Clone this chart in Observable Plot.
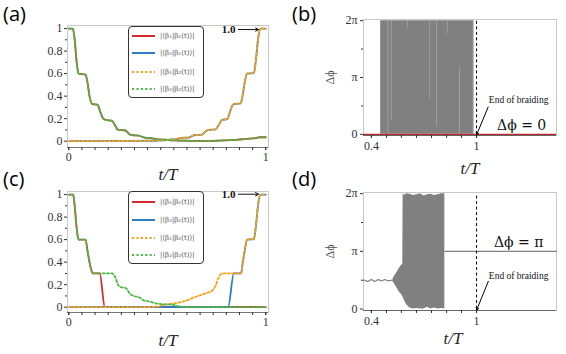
<!DOCTYPE html>
<html><head><meta charset="utf-8">
<script src="https://cdn.jsdelivr.net/npm/d3@7"></script>
<script src="https://cdn.jsdelivr.net/npm/@observablehq/plot@0.6"></script>
<style>
body{margin:0;background:#fff;}
#root{position:relative;width:566px;height:354px;overflow:hidden;background:#fff;}
.lab{position:absolute;font-family:"Open Sans";font-size:20px;line-height:20px;color:#000;}
.legend{position:absolute;border:1px solid #333;border-radius:4px;background:#fff;box-sizing:border-box;}
.row{position:absolute;left:3px;height:10px;display:flex;align-items:center;}
.row span{font-family:"DejaVu Serif";font-size:7px;color:#555;margin-left:5px;white-space:nowrap;}
</style></head><body><div id="root"></div>
<script>
// ---------- data ----------
const seriesNames = ["|⟨β₁|β₁(t)⟩|", "|⟨β₂|β₁(t)⟩|", "|⟨β₁|β₂(t)⟩|", "|⟨β₂|β₂(t)⟩|"];
const seriesColors = ["#d42a2a", "#2f7bc4", "#f7a21b", "#4db848"];
const seriesDash = [null, null, "2.2,2.2", "2.2,2.2"];

// panel (a): red/green share one curve, blue/orange share one curve
const aT1 = [0, 0.02, 0.03, 0.04, 0.05, 0.085, 0.095, 0.105, 0.12, 0.145, 0.16, 0.175, 0.186, 0.22, 0.235, 0.245, 0.255, 0.288, 0.3, 0.31, 0.32, 0.355, 0.37, 0.39, 0.42, 0.44, 0.457, 0.49, 0.52, 0.55, 0.6, 0.65, 0.7, 0.75, 0.8, 0.85, 0.9, 0.95, 0.97, 1];
const aV1 = [1, 1, 0.9, 0.7, 0.6, 0.59, 0.52, 0.4, 0.33, 0.325, 0.26, 0.2, 0.19, 0.18, 0.14, 0.11, 0.1, 0.095, 0.075, 0.06, 0.055, 0.05, 0.04, 0.03, 0.028, 0.02, 0.015, 0.013, 0.008, 0.006, 0.004, 0.002, 0.002, 0.004, 0.008, 0.012, 0.02, 0.028, 0.035, 0.035];
const aT2 = [0, 0.3, 0.45, 0.5, 0.516, 0.54, 0.56, 0.576, 0.609, 0.625, 0.643, 0.677, 0.69, 0.71, 0.745, 0.76, 0.779, 0.804, 0.815, 0.826, 0.838, 0.872, 0.882, 0.893, 0.905, 0.94, 0.95, 0.962, 0.973, 1];
const aV2 = [0, 0.002, 0.006, 0.01, 0.015, 0.017, 0.025, 0.03, 0.032, 0.045, 0.055, 0.058, 0.08, 0.1, 0.105, 0.14, 0.19, 0.195, 0.24, 0.3, 0.33, 0.335, 0.4, 0.52, 0.6, 0.605, 0.72, 0.92, 1, 1];

// panel (c)
const cT1 = [0, 0.022, 0.03, 0.04, 0.05, 0.085, 0.095, 0.11, 0.122, 0.157, 0.183, 0.3, 0.5, 0.7, 0.9, 1];
const cV1 = [1, 1, 0.9, 0.7, 0.6, 0.6, 0.5, 0.36, 0.3, 0.3, 0, 0, 0.002, 0, 0.003, 0];
const cT2 = [0, 0.3, 0.6, 0.809, 0.838, 0.875, 0.882, 0.893, 0.905, 0.94, 0.95, 0.962, 0.973, 1];
const cV2 = [0, 0.002, 0, 0, 0.3, 0.3, 0.38, 0.5, 0.6, 0.605, 0.72, 0.92, 1, 1];
const cT3 = [0, 0.3, 0.45, 0.48, 0.5, 0.54, 0.59, 0.64, 0.69, 0.73, 0.745, 0.76, 0.78, 0.875, 0.882, 0.893, 0.905, 0.94, 0.95, 0.962, 0.973, 1];
const cV3 = [0, 0, 0.005, 0.02, 0.025, 0.035, 0.055, 0.09, 0.12, 0.15, 0.19, 0.26, 0.3, 0.3, 0.38, 0.5, 0.6, 0.605, 0.72, 0.92, 1, 1];
const cT4 = [0, 0.022, 0.03, 0.04, 0.05, 0.085, 0.095, 0.11, 0.122, 0.22, 0.235, 0.25, 0.26, 0.29, 0.31, 0.33, 0.36, 0.38, 0.41, 0.44, 0.47, 0.5, 0.53, 0.56, 0.6, 0.7, 0.85, 1];
const cV4 = [1, 1, 0.9, 0.7, 0.6, 0.6, 0.5, 0.36, 0.3, 0.3, 0.27, 0.2, 0.18, 0.17, 0.12, 0.1, 0.085, 0.06, 0.05, 0.035, 0.027, 0.025, 0.02, 0.008, 0.002, 0, 0, 0];

// panel (b): phase difference (units of π)
const bBandT = [0.453, 0.985];
const bBandLo = [0, 0];
const bBandHi = [2, 2];
const bLightT = [0.495, 0.514, 0.605, 0.732, 0.772, 0.833, 0.903, 0.98];
const bLightLo = [0, 0.25, 1.85, 0.63, 0.13, 1.77, 0, 0];
const bLightHi = [2, 2, 2, 2, 2, 2, 1.18, 2];
const bZeroV = [0];

// panel (d)
const dWaveT = [0.355, 0.362, 0.381, 0.4, 0.419, 0.438, 0.457, 0.476, 0.495, 0.514, 0.524];
const dWaveV = [0.5, 0.5, 0.48, 0.51, 0.48, 0.51, 0.49, 0.51, 0.49, 0.5, 0.5];
const dBandT = [0.524, 0.535, 0.547, 0.558, 0.57, 0.579, 0.581, 0.59, 0.6, 0.62, 0.64, 0.66, 0.68, 0.7, 0.72, 0.74, 0.76, 0.78, 0.8, 0.819];
const dBandLo = [0.47, 0.42, 0.36, 0.3, 0.26, 0.22, 0.2, 0.14, 0.08, 0.02, 0, 0.01, 0, 0, 0.03, 0, 0.02, 0, 0.01, 0];
const dBandHi = [0.53, 0.58, 0.64, 0.7, 0.75, 0.78, 2, 1.97, 2, 1.99, 1.97, 1.98, 2, 1.96, 1.98, 1.99, 1.97, 1.98, 2, 2];
const dPiT = [0.819, 1.456];
const dPiV = [1, 1];

// axes / ticks
const xDomAC = [-0.0066, 1.014];
const yDomA = [-0.056, 1.027];
const yDomC = [-0.047, 1.027];
const xMajorAC = [0, 1];
const xMinorAC = [0, 0.0667, 0.1333, 0.2, 0.2667, 0.3333, 0.4, 0.4667, 0.5333, 0.6, 0.6667, 0.7333, 0.8, 0.8667, 0.9333, 1];
const yMajorAC = [0, 0.2, 0.4, 0.6, 0.8, 1];
const yMinorAC = [0.1, 0.3, 0.5, 0.7, 0.9];
const xDomBD = [0.355, 1.456];
const yDomB = [-0.02, 2.02];
const yDomD = [-0.025, 2.02];
const xMajorBD = [0.4, 1];
const xMinorBD = [0.4, 0.486, 0.571, 0.657, 0.743, 0.829, 0.914, 1];
const yMajorBD = [0, 1, 2];
const yMajorBDLabels = ["0", "π", "2π"];
const yMinorBD = [0.5, 1.5];
const braidEnd = [1];

// annotations
const annA = {t: 0.811, v: 0.991, x1: 0.861, x2: 0.963};
const annC = {t: 0.811, v: 1.003, x1: 0.861, x2: 0.963};
const annB = {endT: 1.24, endV: 0.6, phT: 1.257, phV: 0.16, ph: "Δϕ = 0", x1: 1.066, y1: 0.48, x2: 1.0, y2: -0.01};
const annD = {endT: 1.24, endV: 0.566, phT: 1.24, phV: 1.154, ph: "Δϕ = π", x1: 1.067, y1: 0.48, x2: 1.0, y2: -0.02};

// ---------- helpers ----------
const SERIF = "Liberation Serif";
const rows = (t, v) => t.map((x, i) => ({t: x, v: v[i]}));
const band = (t, lo, hi) => t.map((x, i) => ({t: x, lo: lo[i], hi: hi[i]}));
const root = document.getElementById("root");
function place(el, left, top) {
  el.style.position = "absolute"; el.style.left = left + "px"; el.style.top = top + "px";
  root.appendChild(el);
}
const baseStyle = {fontFamily: SERIF, fontSize: "12px", color: "#333", background: "transparent", overflow: "visible"};
const axisFont = {fontFamily: SERIF, fontSize: 12, label: null};

function curvePanel(series, yDom, ann, h, mt, mb, labelDy) {
  const marks = [
    Plot.frame({stroke: "#c8c8c8"}),
    Plot.ruleY([yDom[0]], {stroke: "#777"}),
    Plot.axisX({...axisFont, ticks: xMinorAC, tickSize: 3, tickFormat: () => ""}),
    Plot.axisX({...axisFont, ticks: xMajorAC, tickSize: 3, tickPadding: 2, tickFormat: d => String(d)}),
    Plot.axisY({...axisFont, ticks: yMinorAC, tickSize: 2, tickFormat: () => ""}),
    Plot.axisY({...axisFont, ticks: yMajorAC, tickSize: 3, tickPadding: 2, tickFormat: d => String(d)})
  ];
  series.forEach((s, i) => {
    marks.push(Plot.line(rows(s[0], s[1]), {x: "t", y: "v", stroke: seriesColors[i], strokeWidth: 1.8,
      curve: "monotone-x", strokeDasharray: seriesDash[i] || undefined}));
  });
  marks.push(
    Plot.text(["1.0"], {x: () => ann.t, y: () => ann.v, text: d => d, fontWeight: "bold", fontSize: 11, fontFamily: SERIF, fill: "#111"}),
    Plot.arrow([ann], {x1: "x1", x2: "x2", y1: "v", y2: "v", stroke: "#111", strokeWidth: 1, headLength: 5}),
    Plot.text(["t/T"], {frameAnchor: "bottom", lineAnchor: "middle", dy: labelDy, text: d => d, fontStyle: "italic", fontSize: 17, fontFamily: SERIF, fill: "#222"})
  );
  return Plot.plot({
    width: 283, height: h, marginLeft: 67, marginRight: 15, marginTop: mt, marginBottom: mb,
    x: {domain: xDomAC}, y: {domain: yDom}, style: baseStyle, marks
  });
}

function phasePanel(bandMarks, yDom, ann, h, mt, mb, labelDx, labelDy) {
  const marks = [
    Plot.frame({stroke: "#c8c8c8"}),
    ...bandMarks,
    Plot.ruleY([yDom[0]], {stroke: "#666"}),
    Plot.ruleX(braidEnd, {y1: 0, y2: 2, stroke: "#000", strokeWidth: 1, strokeDasharray: "3,2.5"}),
    Plot.axisX({...axisFont, ticks: xMinorBD, tickSize: 3, tickFormat: () => ""}),
    Plot.axisX({...axisFont, ticks: xMajorBD, tickSize: 3, tickPadding: 3, tickFormat: d => d === 1 ? "1" : "0.4"}),
    Plot.axisY({...axisFont, ticks: yMinorBD, tickSize: 2, tickFormat: () => ""}),
    Plot.axisY({...axisFont, ticks: yMajorBD, tickSize: 3, tickPadding: 3, tickFormat: d => yMajorBDLabels[d]}),
    Plot.text(["End of braiding"], {x: () => ann.endT, y: () => ann.endV, text: d => d, fontSize: 9.5, fontFamily: SERIF, fill: "#111"}),
    Plot.text([ann.ph], {x: () => ann.phT, y: () => ann.phV, text: d => d, fontSize: 14, fontFamily: "DejaVu Serif", fill: "#111"}),
    Plot.arrow([ann], {x1: "x1", y1: "y1", x2: "x2", y2: "y2", stroke: "#000", strokeWidth: 1, headLength: 4}),
    Plot.text(["Δϕ"], {frameAnchor: "left", textAnchor: "middle", lineAnchor: "middle", dx: -33, rotate: -90, text: d => d, fontSize: 12, fontFamily: SERIF, fill: "#555"}),
    Plot.text(["t/T"], {frameAnchor: "bottom", lineAnchor: "middle", dx: labelDx, dy: labelDy, text: d => d, fontStyle: "italic", fontSize: 17, fontFamily: SERIF, fill: "#222"})
  ];
  return Plot.plot({
    width: 283, height: h, marginLeft: 80, marginRight: 10, marginTop: mt, marginBottom: mb,
    x: {domain: xDomBD}, y: {domain: yDom}, style: baseStyle, marks
  });
}

function legend(left, top, h, rowCenters) {
  const box = document.createElement("div");
  box.className = "legend";
  box.style.width = "76px"; box.style.height = h + "px";
  seriesNames.forEach((name, i) => {
    const r = document.createElement("div");
    r.className = "row";
    r.style.top = (rowCenters[i] - 5) + "px";
    const dash = seriesDash[i] ? `stroke-dasharray="${seriesDash[i]}"` : "";
    r.innerHTML = `<svg width="23" height="4"><line x1="0" x2="23" y1="2" y2="2" stroke="${seriesColors[i]}" stroke-width="2" ${dash}/></svg><span>${name}</span>`;
    box.appendChild(r);
  });
  place(box, left, top);
}

function label(txt, left, top) {
  const d = document.createElement("div");
  d.className = "lab"; d.textContent = txt;
  place(d, left, top);
}

// ---------- build ----------
const pa = curvePanel([[aT1, aV1], [aT2, aV2], [aT2, aV2], [aT1, aV1]], yDomA, annA, 190, 25, 43, 27);
place(pa, 0, 0);
const pc = curvePanel([[cT1, cV1], [cT2, cV2], [cT3, cV3], [cT4, cV4]], yDomC, annC, 177, 14, 42, 28);
place(pc, 0, 177);

const pb = phasePanel([
  Plot.areaY(band(bBandT, bBandLo, bBandHi), {x: "t", y1: "lo", y2: "hi", fill: "#808080"}),
  Plot.ruleX(band(bLightT, bLightLo, bLightHi), {x: "t", y1: "lo", y2: "hi", stroke: "#aaaaaa", strokeWidth: 0.7}),
  Plot.ruleY(bZeroV, {stroke: "#c0272d", strokeWidth: 1.3})
], yDomB, annB, 177, 19, 42, 10, 33);
place(pb, 283, 0);

const pd = phasePanel([
  Plot.line(rows(dWaveT, dWaveV), {x: "t", y: "v", stroke: "#808080", strokeWidth: 1.2, curve: "natural"}),
  Plot.areaY(band(dBandT, dBandLo, dBandHi), {x: "t", y1: "lo", y2: "hi", fill: "#808080"}),
  Plot.line(rows(dPiT, dPiV), {x: "t", y: "v", stroke: "#808080", strokeWidth: 1.2})
], yDomD, annD, 177, 15, 44, -7, 28);
place(pd, 283, 177);

legend(128, 26, 72, [9, 26.3, 44.7, 62.3]);
legend(128, 191, 73, [10, 27.7, 46, 63.3]);

label("(a)", 3, 4);
label("(b)", 292, 4);
label("(c)", 3, 169);
label("(d)", 292, 169);
</script></body></html>
